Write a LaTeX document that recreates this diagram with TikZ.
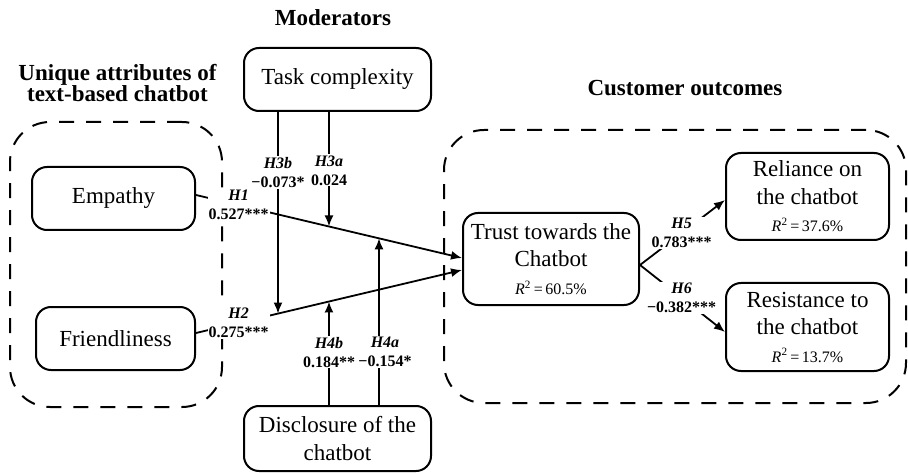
\documentclass[tikz,border=0pt]{standalone}
\usepackage{fontspec}
\setmainfont{Liberation Serif}
\usetikzlibrary{arrows.meta,calc}
\newcommand\myrsq[1]{{\fontsize{16}{16}\selectfont\textit{R}\textsuperscript{2}\,=\,#1\%}}
\begin{document}
\begin{tikzpicture}[x=1pt,y=-1pt,
  box/.style={draw, line width=2pt, rounded corners=15pt, align=center, inner sep=0pt, font=\fontsize{23}{27.5}\selectfont},
  grp/.style={draw, line width=2pt, dash pattern=on 15pt off 12pt, rounded corners=40pt, inner sep=0pt},
  ttl/.style={align=center, font=\bfseries\fontsize{23}{21.5}\selectfont},
  lab/.style={fill=white, inner sep=1pt, align=center, font=\bfseries\fontsize{16}{19}\selectfont},
  conn/.style={line width=1.8pt},
  arr/.style={conn, -{Latex[length=11pt,width=9pt]}}
]
\useasboundingbox (0,0) rectangle (908,473);

% titles
\node[ttl] (tMod) at (333,18) {Moderators};
\node[ttl] (tUni) at (117.5,83) {Unique attributes of\\text-based chatbot};
\node[ttl] (tCus) at (685,88) {Customer outcomes};

% groups
\node[grp, minimum width=212, minimum height=285] (gL) at (116,264.5) {};
\node[grp, minimum width=462, minimum height=273] (gR) at (675,266.5) {};

% boxes
\node[box, minimum width=187, minimum height=63] (Tk) at (337.5,79.5) {Task complexity};
\node[box, minimum width=187, minimum height=65] (D) at (337.5,438.5) {Disclosure of the\\chatbot};
\node[box, minimum width=163, minimum height=63] (E) at (113.5,198.5) {Empathy};
\node[box, minimum width=159, minimum height=63] (F) at (115.5,338.5) {Friendliness};
\node[box, minimum width=176, minimum height=92] (T) at (551,259) {Trust towards the\\Chatbot\\\myrsq{60.5}};
\node[box, minimum width=163, minimum height=87] (R1) at (807.5,196.5) {Reliance on\\the chatbot\\\myrsq{37.6}};
\node[box, minimum width=163, minimum height=88] (R2) at (807.5,327) {Resistance to\\the chatbot\\\myrsq{13.7}};

% helper coordinates
\coordinate (e0) at ($(E.east)+(0,-3.5)$);
\coordinate (e1) at ($(T.west)+(0,-1)$);
\coordinate (f0) at ($(F.east)+(0,-5.5)$);
\coordinate (f1) at ($(T.west)+(0,11)$);
\coordinate (m3b) at ($(Tk.south)+(-59.5,0)$);
\coordinate (m3bx) at ($(m3b)+(0,400)$);
\coordinate (m3a) at ($(Tk.south)+(-8.5,0)$);
\coordinate (m3ax) at ($(m3a)+(0,400)$);
\coordinate (m4b) at ($(D.north)+(-8.5,0)$);
\coordinate (m4bx) at ($(m4b)+(0,-400)$);
\coordinate (m4a) at ($(D.north)+(41.5,0)$);
\coordinate (m4ax) at ($(m4a)+(0,-400)$);
\coordinate (t5) at ($(T.east)+(0,6)$);
\coordinate (r1) at ($(R1.west)+(0,3.5)$);
\coordinate (r2) at ($(R2.west)+(0,5)$);

% connectors
\draw[arr] (e0) -- node[lab,pos=0.16] {\textit{H1}\\0.527***} (e1);
\draw[arr] (f0) -- node[lab,pos=0.16] {\textit{H2}\\0.275***} (f1);
\draw[arr] (m3b) -- node[lab,pos=0.3] {\textit{H3b}\\−0.073*} (intersection of m3b--m3bx and f0--f1);
\draw[arr] (m3a) -- node[lab,pos=0.51] {\textit{H3a}\\0.024} (intersection of m3a--m3ax and e0--e1);
\draw[arr] (m4b) -- node[lab,pos=0.51] {\textit{H4b}\\0.184**} (intersection of m4b--m4bx and f0--f1);
\draw[arr] (m4a) -- node[lab,pos=0.32,xshift=6] {\textit{H4a}\\−0.154*} (intersection of m4a--m4ax and e0--e1);
\draw[arr] (t5) -- node[lab,pos=0.49] {\textit{H5}\\0.783***} (r1);
\draw[arr] (t5) -- node[lab,pos=0.49] {\textit{H6}\\−0.382***} (r2);
\end{tikzpicture}
\end{document}
